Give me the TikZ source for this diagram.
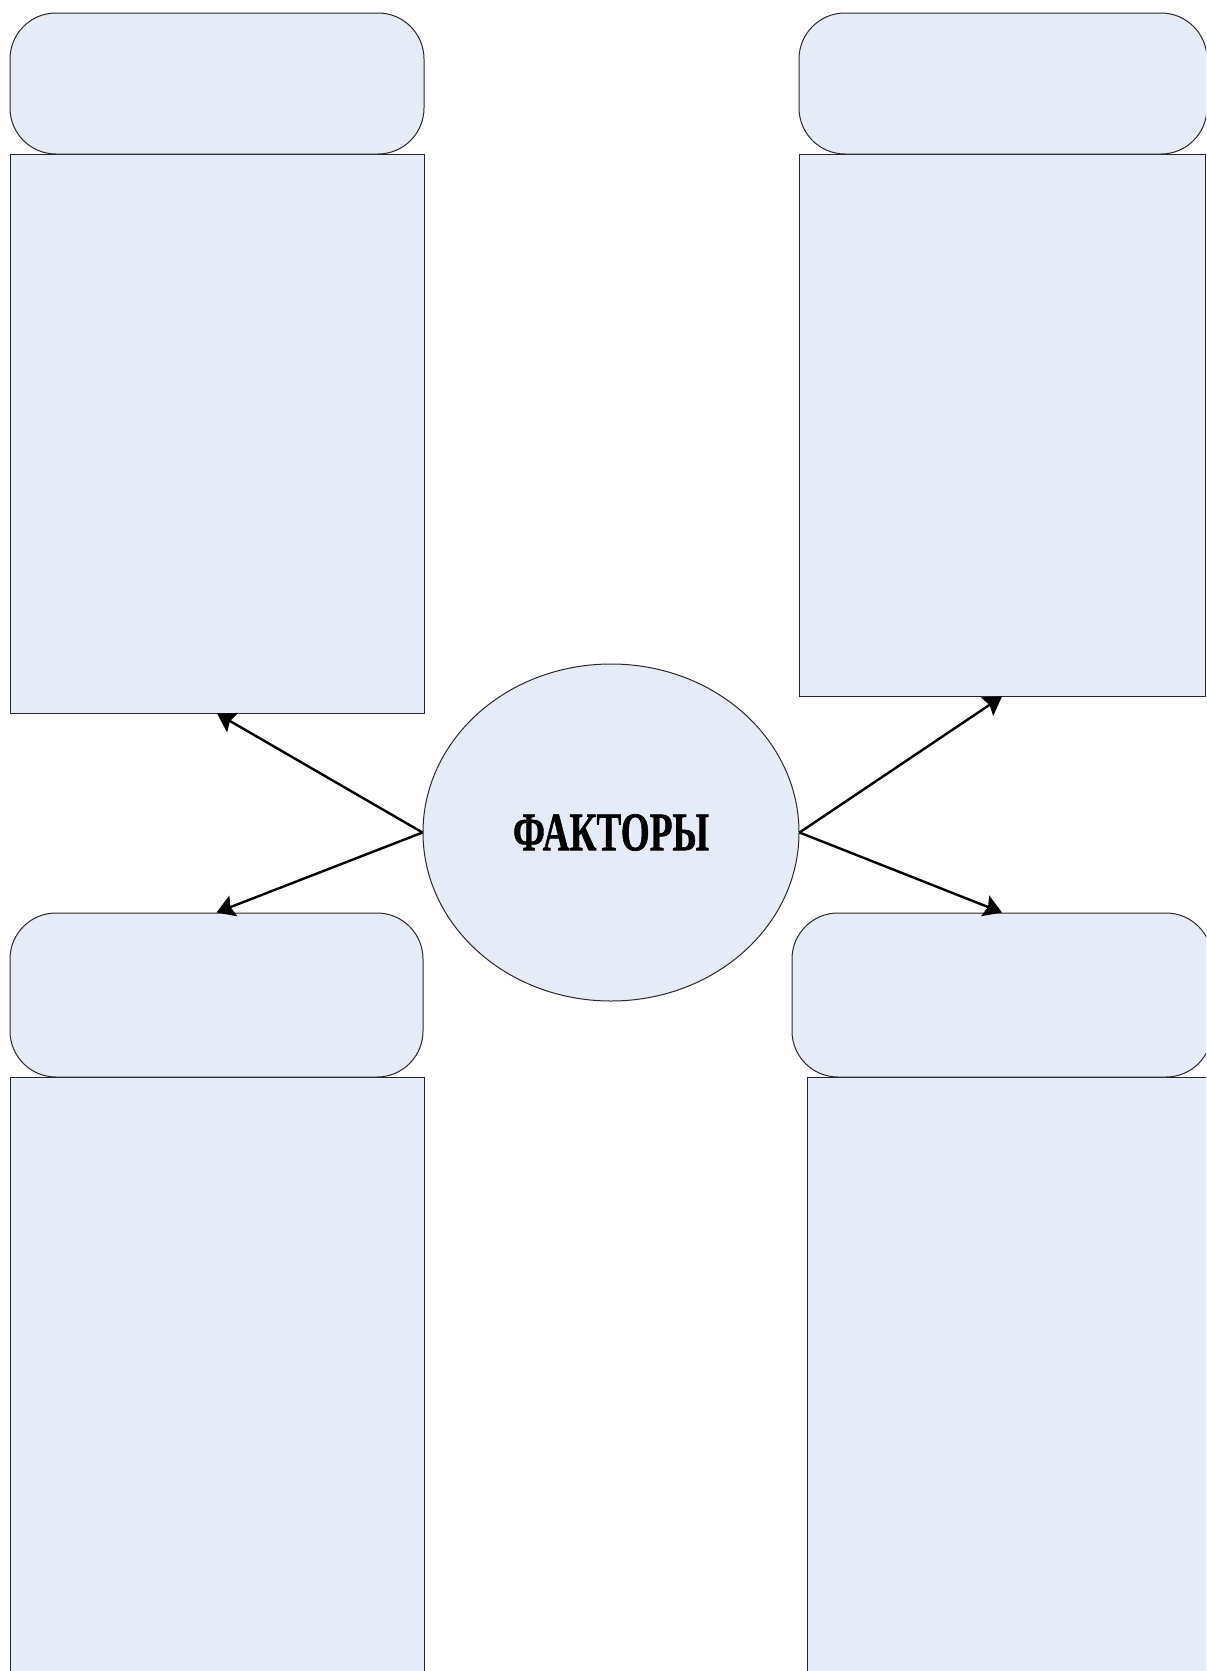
\documentclass[tikz,border=0pt]{standalone}
\usepackage{fontspec}
\setmainfont{Liberation Serif}
\newfontfamily\hubfont[FakeBold=1.2]{Liberation Serif Bold}
\usetikzlibrary{shapes.geometric,fit,arrows.meta}
\definecolor{boxfill}{RGB}{230,236,247}
\definecolor{boxline}{RGB}{40,40,40}
\tikzset{
  px/.style={x=0.5pt,y=-0.5pt},
  headbox/.style={draw=boxline,fill=boxfill,line width=0.5pt,rounded corners=23pt,inner sep=0pt},
  bodybox/.style={draw=boxline,fill=boxfill,line width=0.5pt,inner sep=0pt},
  hub/.style={ellipse,draw=boxline,fill=boxfill,line width=0.5pt,inner sep=0pt,minimum width=188pt,minimum height=168.5pt},
  arr/.style={line width=1.2pt,-{Stealth[length=9pt,width=11pt,inset=1.5pt]}}
}
\begin{document}
\begin{tikzpicture}[px]
\useasboundingbox (0,0) rectangle (1206,1671);
\clip (0,0) rectangle (1206,1671);
% top left
\node[bodybox,fit={(10,154)(424,713)}] (tlbody) {};
\node[headbox,fit={(10,13)(424,154)}] (tlhead) {};
% top right
\node[bodybox,fit={(799,154)(1205,696)}] (trbody) {};
\node[headbox,fit={(799,13)(1207,154)}] (trhead) {};
% bottom left
\node[bodybox,fit={(10,1077)(424,1700)}] (blbody) {};
\node[headbox,fit={(10,913)(423,1077)}] (blhead) {};
% bottom right
\node[bodybox,fit={(807,1077)(1225,1700)}] (brbody) {};
\node[headbox,fit={(792,913)(1212,1077)}] (brhead) {};
% centre
\node[hub] (hub) at (611,832.5) {\resizebox{98pt}{18pt}{\hubfont ФАКТОРЫ}};
% connectors
\draw[arr] (hub.west) -- (tlbody.south);
\draw[arr] (hub.west) -- (blhead.north);
\draw[arr] (hub.east) -- (trbody.south);
\draw[arr] (hub.east) -- (brhead.north);
\end{tikzpicture}
\end{document}
